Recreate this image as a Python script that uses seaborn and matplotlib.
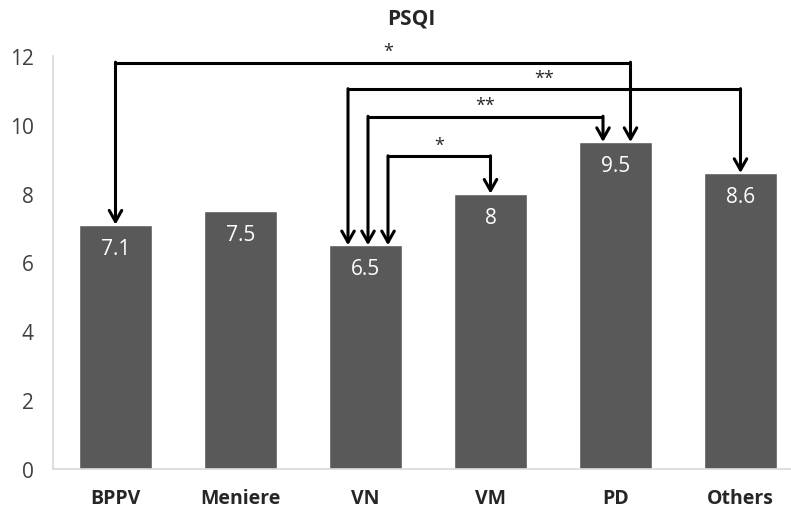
import matplotlib.pyplot as plt
import seaborn as sns

groups = ['BPPV', 'Meniere', 'VN', 'VM', 'PD', 'Others']
psqi = [7.1, 7.5, 6.5, 8.0, 9.5, 8.6]
value_labels = ['7.1', '7.5', '6.5', '8', '9.5', '8.6']

# significance brackets: (from group, to group, label)
comparisons = [
    ('BPPV', 'PD', '*'),
    ('VN', 'Others', '**'),
    ('VN', 'PD', '**'),
    ('VN', 'VM', '*'),
]

sns.set_style('white')
plt.rcParams['font.family'] = ['Open Sans', 'DejaVu Sans']

fig = plt.figure(figsize=(7.91, 5.10), dpi=100)
ax = fig.add_axes([53 / 791, 1 - 470 / 510, 750 / 791, 413 / 510])

sns.barplot(x=groups, y=psqi, color='#595959', saturation=1, width=0.58, ax=ax)

ax.set_ylim(0, 12)
ax.set_xlim(-0.5, 5.5)
ax.set_yticks(range(0, 13, 2))
ax.set_xlabel('')
ax.set_ylabel('')
ax.tick_params(axis='y', length=0, pad=14, labelsize=15, colors='#404040')
ax.tick_params(axis='x', length=0, pad=14, labelsize=14)
for lab in ax.get_xticklabels():
    lab.set_fontweight('bold')
for side in ['top', 'right']:
    ax.spines[side].set_visible(False)
for side in ['left', 'bottom']:
    ax.spines[side].set_color('#d9d9d9')
    ax.spines[side].set_linewidth(1.2)

fig.text(0.52, 0.962, 'PSQI', ha='center', va='center', fontsize=15, fontweight='bold')

# white values inside bars
for i, (v, t) in enumerate(zip(psqi, value_labels)):
    ax.text(i, v - 0.68, t, ha='center', va='center', color='white', fontsize=15)

# bracket heights, end offsets and star shifts (data units)
heights = [11.8, 11.03, 10.23, 9.08]
start_off = [0.0, -0.14, 0.02, 0.18]
end_off = [0.12, 0.0, -0.1, 0.0]
star_shift = [0.12, 0.0, 0.0, 0.0]

arrow_kw = dict(arrowstyle='->,head_length=0.8,head_width=0.45', color='black', lw=2.2,
                shrinkA=0, shrinkB=0)
for (a, b, lab), h, so, eo, ss in zip(comparisons, heights, start_off, end_off, star_shift):
    ia, ib = groups.index(a), groups.index(b)
    xa, xb = ia + so, ib + eo
    ax.plot([xa, xb], [h, h], color='black', lw=2.2, solid_capstyle='butt',
            clip_on=False, zorder=5)
    ax.annotate('', xy=(xa, psqi[ia]), xytext=(xa, h + 0.02), arrowprops=arrow_kw,
                annotation_clip=False, zorder=5)
    ax.annotate('', xy=(xb, psqi[ib]), xytext=(xb, h + 0.02), arrowprops=arrow_kw,
                annotation_clip=False, zorder=5)
    ax.text((xa + xb) / 2 + ss, h + 0.08, lab, ha='center', va='bottom', fontsize=13)

fig.savefig('out.png', dpi=100)
